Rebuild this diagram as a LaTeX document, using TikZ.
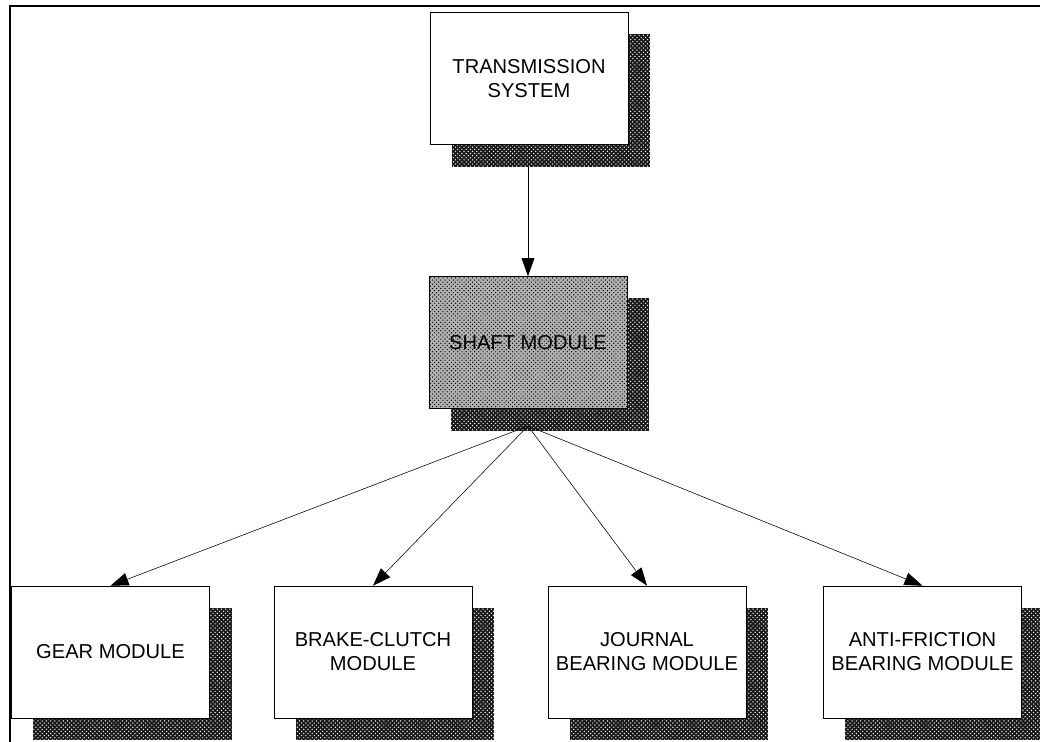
\documentclass[tikz,border=0pt]{standalone}
\usepackage{fontspec}
\setmainfont{Liberation Sans}
\usetikzlibrary{arrows.meta,shadows,patterns}

\begin{document}
\begin{tikzpicture}[
    x=0.025cm, y=-0.025cm,
    module/.style={draw, fill=white, minimum width=4.95cm, minimum height=3.3cm,
      align=center, font=\fontsize{14.3}{17}\selectfont, inner sep=1pt,
      general shadow={shadow xshift=0.55cm, shadow yshift=-0.55cm, fill=black!90,
        postaction={pattern=crosshatch dots, pattern color=white}}},
    active/.style={module, preaction={fill=black!30}, pattern=crosshatch dots, pattern color=black},
    link/.style={-{Triangle[length=4.5mm, width=3.2mm]}, thin},
  ]
  \useasboundingbox (0,0) rectangle (1040,742);
  \clip (0,0) rectangle (1040,742);

  % Frame
  \draw[very thick] (10,742) -- (10,6) -- (1040,6);

  % Modules
  \node[module] (trans) at (529,78.5) {TRANSMISSION\\SYSTEM};
  \node[active] (shaft) at (528,342.5) {SHAFT MODULE};
  \node[module] (gear) at (110.5,652) {GEAR MODULE};
  \node[module] (brake) at (373,652) {BRAKE-CLUTCH\\MODULE};
  \node[module] (journal) at (647,652) {JOURNAL\\BEARING MODULE};
  \node[module] (antifric) at (922.5,652) {ANTI-FRICTION\\BEARING MODULE};

  % Links
  \coordinate (tout) at (528,167);
  \coordinate (sout) at (528,426);
  \draw[link] (tout) -- (shaft.north);
  \draw[link] (sout) -- (gear.north);
  \draw[link] (sout) -- (brake.north);
  \draw[link] (sout) -- (journal.north);
  \draw[link] (sout) -- (antifric.north);
\end{tikzpicture}
\end{document}
